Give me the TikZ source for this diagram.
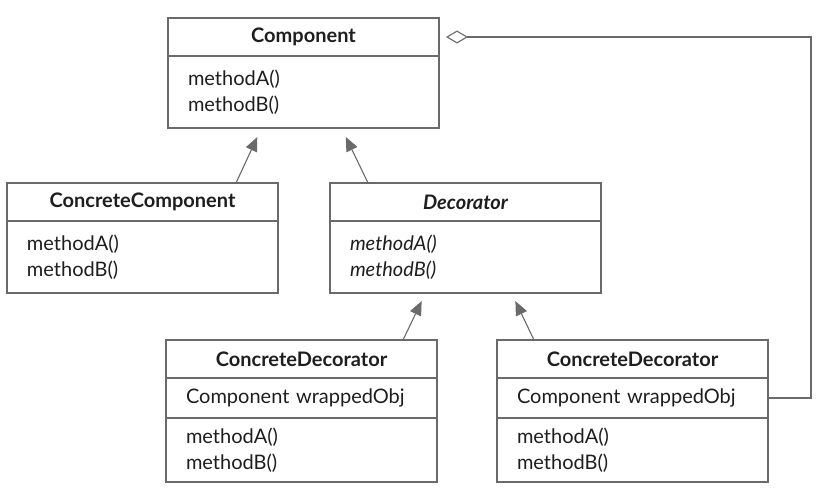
\documentclass[tikz,border=0pt]{standalone}
\usepackage{fontspec}
\setmainfont{Lato}
\usepackage{xcolor}
\usetikzlibrary{arrows.meta,positioning}
\definecolor{umlline}{HTML}{6A6A6A}
\definecolor{umltext}{HTML}{1E1E1E}

\begin{document}
\begin{tikzpicture}[
  node distance=0pt,
  clshead/.style={draw=umlline, line width=1.1pt, outer sep=0pt, minimum width=271pt, minimum height=38pt, text=umltext, font=\fontsize{20}{24}\selectfont\bfseries},
  clsbody/.style={draw=umlline, line width=1.1pt, outer sep=0pt, text width=231pt, inner xsep=20pt, align=left, minimum height=72pt, text=umltext, font=\fontsize{20}{26}\selectfont},
  inherit/.style={-{Triangle[length=14pt, width=12pt]}, line width=1.1pt, draw=umlline, shorten >=10pt},
  aggr/.style={-{Diamond[open, length=22pt, width=13pt]}, line width=1.1pt, draw=umlline, shorten >=7pt}
]
\useasboundingbox (0pt,0pt) rectangle (816pt,-487pt);
\node[clshead] (comp) at (303.5pt,-37pt) {Component};
\node[clsbody, below=of comp] (compbody) {methodA()\\methodB()};
\node[clshead, below=55pt of compbody, xshift=-161pt] (concomp) {ConcreteComponent};
\node[clsbody, below=of concomp] (concompbody) {methodA()\\methodB()};
\node[clshead, right=52pt of concomp, font=\fontsize{20}{24}\selectfont\bfseries\itshape] (deco) {Decorator};
\node[clsbody, below=of deco, font=\fontsize{20}{26}\selectfont\itshape] (decobody) {methodA()\\methodB()};
\node[clshead, below=47pt of decobody, xshift=-164pt] (cdeca) {ConcreteDecorator};
\node[clsbody, below=of cdeca, minimum height=40pt] (cdecafield) {Component wrappedObj};
\node[clsbody, below=of cdecafield, minimum height=64pt] (cdecabody) {methodA()\\methodB()};
\node[clshead, right=60pt of cdeca] (cdecb) {ConcreteDecorator};
\node[clsbody, below=of cdecb, minimum height=40pt] (cdecbfield) {Component wrappedObj};
\node[clsbody, below=of cdecbfield, minimum height=64pt] (cdecbbody) {methodA()\\methodB()};
\draw[inherit] ([xshift=-42pt]concomp.north east) -- ([xshift=-42pt]compbody.south);
\draw[inherit] ([xshift=38pt]deco.north west) -- ([xshift=38pt]compbody.south);
\draw[inherit, shorten >=9pt] ([xshift=-34pt]cdeca.north east) -- ([xshift=-40pt]decobody.south);
\draw[inherit, shorten >=9pt] ([xshift=37pt]cdecb.north west) -- ([xshift=46pt]decobody.south);
\draw[aggr] (cdecbfield.east) -- ++(43pt,0) |- (comp.east);
\end{tikzpicture}
\end{document}
